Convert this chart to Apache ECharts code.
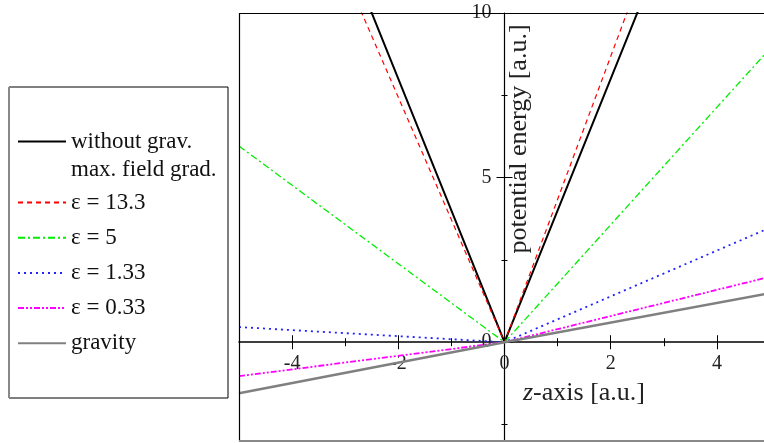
<!DOCTYPE html>
<html>
<head>
<meta charset="utf-8">
<script src="https://cdn.jsdelivr.net/npm/echarts@6/dist/echarts.min.js"></script>
<style>
  html, body { margin: 0; padding: 0; background: #fff; }
  #chart { width: 764px; height: 443px; }
</style>
</head>
<body>
<div id="chart"></div>
<script>
// data: z positions and potential energy per curve
const zPoints = [-5, 0, 5]
const withoutGrav = [20, 0, 20]
const eps13_3 = [18.6, 0, 21.7]
const eps5 = [5.96, 0, 8.92]
const eps1_33 = [0.46, 0, 3.48]
const eps0_33 = [-1.03, 0, 1.99]
const gravity = [-1.55, 0, 1.49]

const xMajor = [-4, -2, 0, 2, 4]
const xMinor = [-3, -1, 1, 3]
const yMajor = [0, 5, 10]
const yMinor = [-2.5, 2.5, 7.5]

const X_MIN = -5, X_MAX = 5, Y_MIN = -3, Y_MAX = 10
const FONT = 'Liberation Serif'
const pts = (ys) => zPoints.map((z, i) => [z, ys[i]])

// grid box in pixels; axes are moved onto z = 0 / E = 0 with offsets
const G = { left: 239, top: 13, right: -6, bottom: 2 }
const gridW = 764 - G.left - G.right
const gridH = 443 - G.top - G.bottom
const xAxisOffset = -gridH * (0 - Y_MIN) / (Y_MAX - Y_MIN)
const yAxisOffset = -gridW * (0 - X_MIN) / (X_MAX - X_MIN)

const chart = echarts.init(document.getElementById('chart'))

// axis copies so the ticks cross the axis line (one side each)
const xAxisBase = (ticks, len, inside, extra) => Object.assign({
  type: 'value', min: X_MIN, max: X_MAX, position: 'bottom', offset: xAxisOffset,
  axisLine: { show: false, onZero: false },
  axisTick: { show: true, customValues: ticks, length: len, inside: inside, lineStyle: { color: '#000', width: 1 } },
  axisLabel: { show: false },
  splitLine: { show: false }
}, extra || {})

const yAxisBase = (ticks, len, inside, extra) => Object.assign({
  type: 'value', min: Y_MIN, max: Y_MAX, position: 'left', offset: yAxisOffset,
  axisLine: { show: false, onZero: false },
  axisTick: { show: true, customValues: ticks, length: len, inside: inside, lineStyle: { color: '#000', width: 1 } },
  axisLabel: { show: false },
  splitLine: { show: false }
}, extra || {})

const legendText = { fontFamily: FONT, fontSize: 23, lineHeight: 22, color: '#111' }

const option = {
  animation: false,
  grid: {
    left: G.left, top: G.top, right: G.right, bottom: G.bottom,
    outerBoundsMode: 'none', containLabel: false, show: false
  },
  xAxis: [
    xAxisBase(xMajor, 7, false, {
      axisLine: { show: true, onZero: false, lineStyle: { color: '#000', width: 1.5 } },
      axisLabel: { show: true, customValues: xMajor, margin: 12, fontFamily: FONT, fontSize: 20, color: '#222' }
    }),
    xAxisBase(xMajor, 7, true),
    xAxisBase(xMinor, 4, false),
    xAxisBase(xMinor, 4, true)
  ],
  yAxis: [
    yAxisBase(yMajor, 8, false, {
      axisLine: { show: true, onZero: false, lineStyle: { color: '#000', width: 1.2 } },
      axisLabel: { show: true, customValues: yMajor, margin: 13, fontFamily: FONT, fontSize: 20, color: '#222' }
    }),
    yAxisBase(yMajor, 8, true),
    yAxisBase(yMinor, 3, false),
    yAxisBase(yMinor, 3, true)
  ],
  legend: [
    {
      left: 17, top: 130, orient: 'vertical', padding: 0, itemGap: 5,
      itemWidth: 48, itemHeight: 14, selectedMode: false,
      itemStyle: { opacity: 0 },
      textStyle: legendText,
      data: [
        'without grav.',
        { name: 'max. field grad.', lineStyle: { opacity: 0 } }
      ]
    },
    {
      left: 17, top: 191, orient: 'vertical', padding: 0, itemGap: 12.2,
      itemWidth: 48, itemHeight: 14, selectedMode: false,
      itemStyle: { opacity: 0 },
      textStyle: legendText,
      data: ['ε = 13.3', 'ε = 5', 'ε = 1.33', 'ε = 0.33', 'gravity']
    }
  ],
  graphic: [
    // legend frame
    { type: 'rect', shape: { x: 9, y: 87, width: 219, height: 311 },
      style: { fill: 'none', stroke: '#000', lineWidth: 1 } },
    { type: 'line', shape: { x1: 9, y1: 87, x2: 9, y2: 398 }, style: { stroke: '#888', lineWidth: 2 } },
    // plot frame (right side lies outside the picture)
    { type: 'line', shape: { x1: 239, y1: 13.5, x2: 764, y2: 13.5 }, style: { stroke: '#000', lineWidth: 1.2 }, z: 10 },
    { type: 'line', shape: { x1: 239.5, y1: 13, x2: 239.5, y2: 441 }, style: { stroke: '#000', lineWidth: 1.2 }, z: 10 },
    { type: 'line', shape: { x1: 239, y1: 441, x2: 764, y2: 441 }, style: { stroke: '#888', lineWidth: 2 }, z: 10 },
    {
      type: 'text', x: 519, y: 139, rotation: Math.PI / 2, z: 100,
      style: {
        text: 'potential energy [a.u.]', fontFamily: FONT, fontSize: 26, fill: '#222',
        align: 'center', verticalAlign: 'middle', textAlign: 'center', textVerticalAlign: 'middle'
      }
    },
    {
      type: 'text', x: 523, y: 393, z: 100,
      style: {
        text: '{i|z}-axis [a.u.]', fontFamily: FONT, fontSize: 26, fill: '#222',
        verticalAlign: 'middle', textVerticalAlign: 'middle',
        rich: { i: { fontStyle: 'italic', fontFamily: FONT, fontSize: 26, fill: '#222' } }
      }
    }
  ],
  series: [
    { name: 'without grav.', type: 'line', symbol: 'none', data: pts(withoutGrav),
      lineStyle: { color: '#000', width: 2 }, itemStyle: { color: '#000' } },
    { name: 'max. field grad.', type: 'line', symbol: 'none', data: [],
      lineStyle: { opacity: 0 } },
    { name: 'ε = 13.3', type: 'line', symbol: 'none', data: pts(eps13_3),
      lineStyle: { color: '#ff0000', width: 1.2, type: [5, 4] }, itemStyle: { color: '#ff0000' } },
    { name: 'ε = 5', type: 'line', symbol: 'none', data: pts(eps5),
      lineStyle: { color: '#00ee00', width: 1.3, type: [7, 3, 2, 3] }, itemStyle: { color: '#00ee00' } },
    { name: 'ε = 1.33', type: 'line', symbol: 'none', data: pts(eps1_33),
      lineStyle: { color: '#2222ff', width: 1.8, type: [2, 4] }, itemStyle: { color: '#2222ff' } },
    { name: 'ε = 0.33', type: 'line', symbol: 'none', data: pts(eps0_33),
      lineStyle: { color: '#ff00ff', width: 1.8, type: [6, 2, 2, 2, 2, 2] }, itemStyle: { color: '#ff00ff' } },
    { name: 'gravity', type: 'line', symbol: 'none', data: pts(gravity),
      lineStyle: { color: '#808080', width: 2.5 }, itemStyle: { color: '#808080' } }
  ]
}

chart.setOption(option)
</script>
</body>
</html>
